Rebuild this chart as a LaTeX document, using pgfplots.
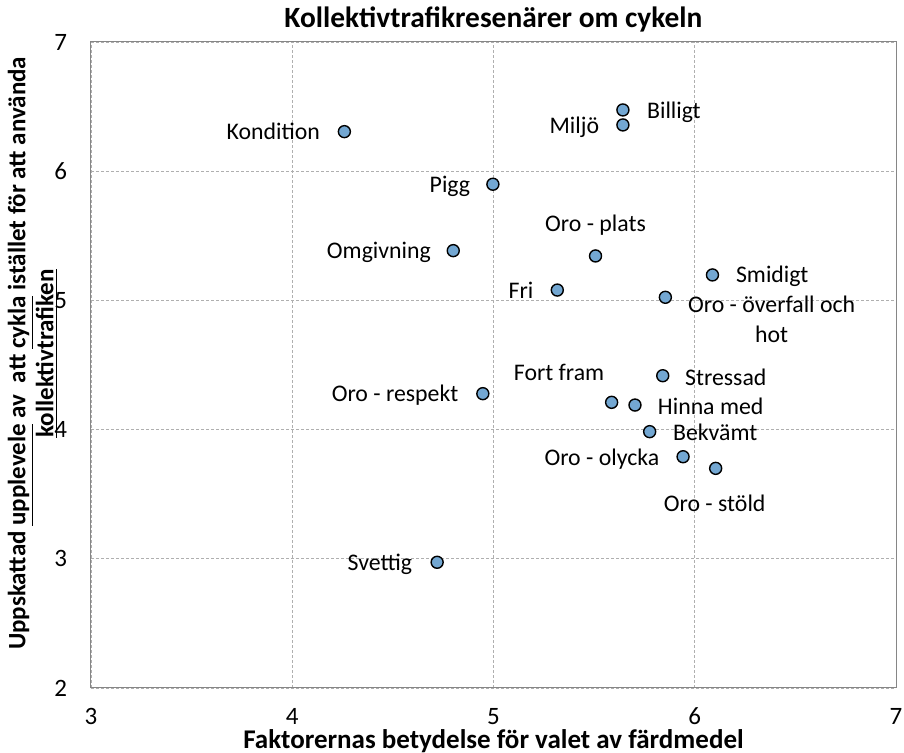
\documentclass[border=0pt]{standalone}
\usepackage{pgfplots}
\pgfplotsset{compat=1.18}
\usepackage{pgfplotstable}
\usepackage{fontspec}
\setmainfont{Carlito}
\definecolor{dotblue}{RGB}{115,167,210}
\definecolor{gridgray}{RGB}{175,175,175}
\definecolor{axisgray}{RGB}{134,134,134}
\newcommand{\lblfont}{\fontsize{11.9}{15}\selectfont}

\pgfplotstableread{
x      y
4.259  6.306
4.997  5.899
5.643  6.474
5.643  6.358
4.800  5.385
5.507  5.344
5.317  5.080
5.854  5.024
6.088  5.197
4.947  4.278
5.587  4.211
5.703  4.190
5.841  4.417
5.776  3.984
5.942  3.790
6.104  3.700
4.720  2.973
}\points

\begin{document}
\begin{tikzpicture}[lbl/.style={font=\lblfont, inner sep=0pt, text height=0.9em, text depth=0.1em}]
\begin{axis}[
  at={(0pt,0pt)}, anchor=south west,
  scale only axis, width=402.5pt, height=323pt,
  xmin=3, xmax=7, ymin=2, ymax=7,
  xtick={3,4,5,6,7}, ytick={2,3,4,5,6,7},
  major tick length=0pt,
  grid=major,
  major grid style={gridgray, dash pattern=on 1.5pt off 1pt, line width=0.4pt},
  axis line style={axisgray, line width=0.5pt},
  /pgf/number format/assume math mode=true,
  ticklabel style={font=\fontsize{12.5}{15}\selectfont},
  xticklabel style={yshift=-6.5pt},
  yticklabel style={xshift=-8.5pt},
  title={Kollektivtrafikresenärer om cykeln},
  title style={font=\fontsize{14.7}{17}\selectfont\bfseries, at={(axis description cs:0.5,1.0045)}, anchor=base, inner sep=0pt},
  xlabel={Faktorernas betydelse för valet av färdmedel},
  xlabel style={font=\fontsize{13.5}{15}\selectfont\bfseries, at={(axis description cs:0.5,-0.0944)}, anchor=base, inner sep=0pt},
  ylabel={Uppskattad \underline{upplevele} av\ \ att \underline{cykla} istället för att använda\\\underline{kollektivtrafiken}},
  ylabel style={font=\fontsize{12.5}{14}\selectfont\bfseries, align=center, at={(axis description cs:-0.041,0.518)}, anchor=south, inner sep=0pt},
  clip=false,
]
\addplot[only marks, mark=*, mark size=3pt, mark options={fill=dotblue, draw=black, line width=0.7pt}] table[x=x, y=y] {\points};

\node[lbl, anchor=east, xshift=-12pt] at (axis cs:4.259,6.306) {Kondition};
\node[lbl, anchor=east, xshift=-11.2pt] at (axis cs:4.997,5.899) {Pigg};
\node[lbl, anchor=west, xshift=11.9pt, yshift=-0.5pt] at (axis cs:5.643,6.474) {Billigt};
\node[lbl, anchor=east, xshift=-11.7pt, yshift=-0.5pt] at (axis cs:5.643,6.358) {Miljö};
\node[lbl, anchor=east, xshift=-11pt] at (axis cs:4.800,5.385) {Omgivning};
\node[lbl, anchor=center, yshift=16pt] at (axis cs:5.507,5.344) {Oro - plats};
\node[lbl, anchor=east, xshift=-11.8pt] at (axis cs:5.317,5.080) {Fri};
\node[lbl, anchor=west, xshift=11.2pt, yshift=-3.4pt] (ov) at (axis cs:5.854,5.024) {Oro - överfall och};
\node[lbl] at ([yshift=-15pt]ov.center) {hot};
\node[lbl, anchor=west, xshift=11.6pt] at (axis cs:6.088,5.197) {Smidigt};
\node[lbl, anchor=east, xshift=-12.1pt] at (axis cs:4.947,4.278) {Oro - respekt};
\node[lbl, anchor=east, xshift=-3.5pt, yshift=14.8pt] at (axis cs:5.587,4.211) {Fort fram};
\node[lbl, anchor=west, xshift=11.3pt, yshift=-0.5pt] at (axis cs:5.703,4.190) {Hinna med};
\node[lbl, anchor=west, xshift=11pt, yshift=-1pt] at (axis cs:5.841,4.417) {Stressad};
\node[lbl, anchor=west, xshift=11.5pt, yshift=-0.5pt] at (axis cs:5.776,3.984) {Bekvämt};
\node[lbl, anchor=east, xshift=-11.75pt, yshift=-0.5pt] at (axis cs:5.942,3.790) {Oro - olycka};
\node[lbl, anchor=center, xshift=-0.5pt, yshift=-17.5pt] at (axis cs:6.104,3.700) {Oro - stöld};
\node[lbl, anchor=east, xshift=-12.3pt] at (axis cs:4.720,2.973) {Svettig};
\end{axis}
\pgfresetboundingbox
\useasboundingbox (-45.5pt,-32.5pt) rectangle (406.5pt,344pt);
\end{tikzpicture}
\end{document}
